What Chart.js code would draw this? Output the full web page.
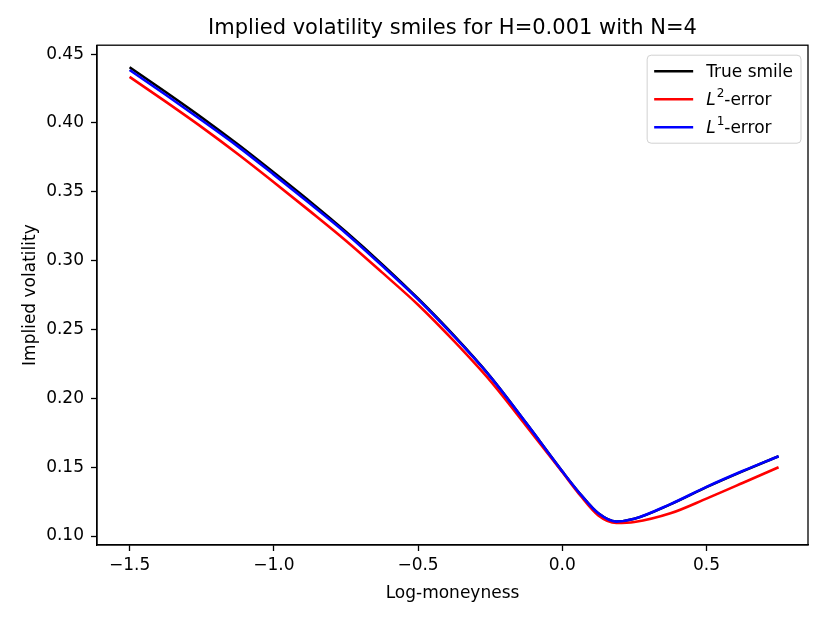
<!DOCTYPE html>
<html>
<head>
<meta charset="utf-8">
<title>Implied volatility smiles</title>
<script src="https://cdn.jsdelivr.net/npm/chart.js@4.4.1/dist/chart.umd.min.js"></script>
<style>
  html, body { margin: 0; padding: 0; background: #ffffff; }
  #smile-chart { display: block; }
</style>
</head>
<body>
<canvas id="smile-chart" width="830" height="623"></canvas>
<script>
// Log-moneyness grid
const logMoneyness = [-1.5, -1.375, -1.25, -1.125, -1.0, -0.875, -0.75, -0.625, -0.5, -0.375,
  -0.25, -0.125, 0.0, 0.0625, 0.125, 0.1875, 0.25, 0.375, 0.5, 0.625, 0.75];

// Implied vols per curve
const trueSmile = [0.4405, 0.4225, 0.404, 0.3845, 0.364, 0.343, 0.321, 0.2975, 0.2725, 0.2455,
  0.216, 0.182, 0.147, 0.1305, 0.1165, 0.1105, 0.1125, 0.123, 0.1355, 0.147, 0.158];
const l2Smile = [0.4335, 0.4155, 0.397, 0.3775, 0.357, 0.336, 0.3145, 0.2915, 0.268, 0.2415,
  0.2128, 0.180, 0.1465, 0.1295, 0.115, 0.1095, 0.1102, 0.1165, 0.1272, 0.1385, 0.150];
const l1Smile = [0.4385, 0.4205, 0.402, 0.383, 0.3625, 0.3415, 0.320, 0.2965, 0.272, 0.245,
  0.2158, 0.182, 0.147, 0.1305, 0.1165, 0.1105, 0.1125, 0.1232, 0.1357, 0.1472, 0.158];

const seriesLabels = ['True smile', 'L\u00b2-error', 'L\u00b9-error'];
const seriesColors = ['#000000', '#ff0000', '#0000ff'];

const FONT = 'DejaVu Sans';

function toPoints(ys) {
  return logMoneyness.map((x, i) => ({ x: x, y: ys[i] }));
}

// Box round the axes (matplotlib spines)
const frameBox = {
  id: 'frameBox',
  afterDatasetsDraw(chart) {
    const { ctx, chartArea: a } = chart;
    ctx.save();
    ctx.strokeStyle = '#000000';
    ctx.lineWidth = 1.3;
    ctx.strokeRect(a.left, a.top, a.right - a.left, a.bottom - a.top);
    ctx.restore();
  },
};

// Legend drawn inside the plot, upper right
const innerLegend = {
  id: 'innerLegend',
  afterDraw(chart) {
    const { ctx, chartArea: a } = chart;
    const fs = 17;
    const rowGap = 28;
    ctx.save();

    // measure labels
    const widths = seriesLabels.map((lab) => {
      const m = lab.match(/^L([\u00b2\u00b9])(.*)$/);
      if (!m) {
        ctx.font = fs + 'px "' + FONT + '"';
        return ctx.measureText(lab).width;
      }
      ctx.font = 'italic ' + fs + 'px "' + FONT + '"';
      let w = ctx.measureText('L').width + 1;
      ctx.font = '12px "' + FONT + '"';
      w += ctx.measureText('2').width;
      ctx.font = fs + 'px "' + FONT + '"';
      return w + ctx.measureText(m[2]).width;
    });
    const boxW = 59 + Math.max(...widths) + 8;
    const boxH = 88;
    const bx = a.right - 7 - boxW;
    const by = a.top + 10;

    ctx.beginPath();
    ctx.roundRect(bx, by, boxW, boxH, 4);
    ctx.fillStyle = 'rgba(255,255,255,0.8)';
    ctx.fill();
    ctx.strokeStyle = 'rgba(204,204,204,0.9)';
    ctx.lineWidth = 1;
    ctx.stroke();

    seriesLabels.forEach((lab, i) => {
      const y = by + 16 + i * rowGap;
      ctx.beginPath();
      ctx.moveTo(bx + 7, y);
      ctx.lineTo(bx + 46, y);
      ctx.strokeStyle = seriesColors[i];
      ctx.lineWidth = 2.6;
      ctx.stroke();

      ctx.fillStyle = '#000000';
      ctx.textBaseline = 'middle';
      ctx.textAlign = 'left';
      let tx = bx + 59;
      const m = lab.match(/^L([\u00b2\u00b9])(.*)$/);
      if (!m) {
        ctx.font = fs + 'px "' + FONT + '"';
        ctx.fillText(lab, tx, y + 1);
        return;
      }
      ctx.font = 'italic ' + fs + 'px "' + FONT + '"';
      ctx.fillText('L', tx, y + 1);
      tx += ctx.measureText('L').width + 1;
      const sup = m[1] === '\u00b2' ? '2' : '1';
      ctx.font = '12px "' + FONT + '"';
      ctx.fillText(sup, tx, y - 5);
      tx += ctx.measureText(sup).width;
      ctx.font = fs + 'px "' + FONT + '"';
      ctx.fillText(m[2], tx, y + 1);
    });
    ctx.restore();
  },
};

const fmtTick = (digits) => (value) => {
  const s = Number(value).toFixed(digits);
  return s.replace('-', '\u2212');
};

const smileContext = document.getElementById('smile-chart').getContext('2d');

const smileChart = new Chart(smileContext, {
  type: 'line',
  data: {
    datasets: [
      {
        label: seriesLabels[0],
        data: toPoints(trueSmile),
        borderColor: seriesColors[0],
        order: 3,
      },
      {
        label: seriesLabels[1],
        data: toPoints(l2Smile),
        borderColor: seriesColors[1],
        order: 2,
      },
      {
        label: seriesLabels[2],
        data: toPoints(l1Smile),
        borderColor: seriesColors[2],
        order: 1,
      },
    ],
  },
  options: {
    responsive: false,
    animation: false,
    devicePixelRatio: 1,
    layout: { padding: { left: 0, right: 22, top: 0, bottom: 0 } },
    elements: {
      line: { borderWidth: 2.6, fill: false, cubicInterpolationMode: 'monotone' },
      point: { radius: 0, hoverRadius: 0 },
    },
    plugins: {
      legend: { display: false },
      tooltip: { enabled: false },
      title: {
        display: true,
        text: 'Implied volatility smiles for H=0.001 with N=4',
        fullSize: false,
        color: '#000000',
        font: { family: FONT, size: 21, weight: 'normal' },
        padding: { top: 16, bottom: 4 },
      },
    },
    scales: {
      x: {
        type: 'linear',
        min: -1.613,
        max: 0.852,
        afterFit(scale) { scale.height = 78; },
        ticks: {
          stepSize: 0.5,
          includeBounds: false,
          color: '#000000',
          font: { family: FONT, size: 17 },
          padding: 4,
          maxRotation: 0,
          callback: fmtTick(1),
        },
        grid: {
          drawOnChartArea: false,
          drawTicks: true,
          tickLength: 6,
          tickColor: '#000000',
          tickWidth: 1.3,
        },
        border: { display: true, color: '#000000', width: 1.3 },
        title: {
          display: true,
          text: 'Log-moneyness',
          color: '#000000',
          font: { family: FONT, size: 17 },
          padding: { top: 0, bottom: 19 },
        },
      },
      y: {
        type: 'linear',
        min: 0.0935,
        max: 0.4565,
        afterFit(scale) { scale.width = 97; },
        ticks: {
          stepSize: 0.05,
          includeBounds: false,
          color: '#000000',
          font: { family: FONT, size: 17 },
          padding: 7,
          callback: fmtTick(2),
        },
        grid: {
          drawOnChartArea: false,
          drawTicks: true,
          tickLength: 6,
          tickColor: '#000000',
          tickWidth: 1.3,
        },
        border: { display: true, color: '#000000', width: 1.3 },
        title: {
          display: true,
          text: 'Implied volatility',
          color: '#000000',
          font: { family: FONT, size: 17 },
          padding: { top: 20, bottom: 0 },
        },
      },
    },
  },
  plugins: [frameBox, innerLegend],
});
</script>
</body>
</html>
